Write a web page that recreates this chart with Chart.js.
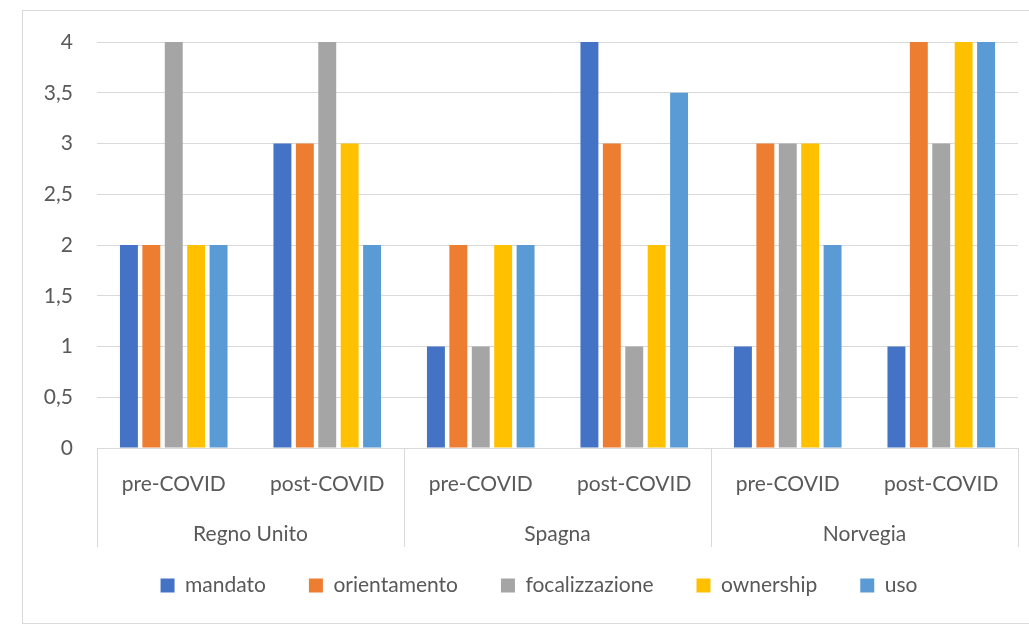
<!DOCTYPE html>
<html>
<head>
<meta charset="utf-8">
<script src="https://cdn.jsdelivr.net/npm/chart.js@4"></script>
<style>
  html, body { margin: 0; padding: 0; background: #fff; }
  #wrap { position: relative; width: 1029px; height: 627px; overflow: hidden; }
  #frame { position: absolute; left: 22px; top: 10px; width: 1020px; height: 614px; border: 1px solid #d9d9d9; box-sizing: border-box; }
  canvas { position: absolute; left: 0; top: 0; }
</style>
</head>
<body>
<div id="wrap">
  <div id="frame"></div>
  <canvas id="c" width="1029" height="627"></canvas>
</div>
<script>
// Sub-categories (period) and their country groups
const periods = ['pre-COVID', 'post-COVID', 'pre-COVID', 'post-COVID', 'pre-COVID', 'post-COVID'];
const countries = ['Regno Unito', 'Spagna', 'Norvegia'];

// Scores per dimension, one value per period/country column
const mandato        = [2, 3, 1, 4, 1, 1];
const orientamento   = [2, 3, 2, 3, 3, 4];
const focalizzazione = [4, 4, 1, 1, 3, 3];
const ownership      = [2, 3, 2, 2, 3, 4];
const uso            = [2, 2, 2, 3.5, 2, 4];

const seriesNames = ['mandato', 'orientamento', 'focalizzazione', 'ownership', 'uso'];
const seriesValues = [mandato, orientamento, focalizzazione, ownership, uso];
const seriesColors = ['#4472C4', '#ED7D31', '#A5A5A5', '#FFC000', '#5B9BD5'];

const FONT = 'Lato, "Open Sans", sans-serif';
const FONT_SIZE = 21;
const TEXT = '#595959';
const LINE = '#d9d9d9';

// Second level of the category axis: country names centred under each
// pair of periods, with vertical separators between the groups
const countryAxis = {
  id: 'countryAxis',
  afterDraw(chart) {
    const x = chart.scales.x;
    const ctx = chart.ctx;
    const step = x.getPixelForValue(1) - x.getPixelForValue(0);
    const top = chart.chartArea.bottom;
    const bottom = top + 99;
    ctx.save();
    ctx.strokeStyle = LINE;
    ctx.lineWidth = 1;
    for (let i = 0; i <= periods.length; i += 2) {
      const px = Math.round(x.getPixelForValue(i) - step / 2) + 0.5;
      ctx.beginPath();
      ctx.moveTo(px, top);
      ctx.lineTo(px, bottom);
      ctx.stroke();
    }
    ctx.fillStyle = TEXT;
    ctx.font = FONT_SIZE + 'px ' + FONT;
    ctx.textAlign = 'center';
    ctx.textBaseline = 'middle';
    countries.forEach((name, g) => {
      const cx = (x.getPixelForValue(2 * g) + x.getPixelForValue(2 * g + 1)) / 2;
      ctx.fillText(name, cx, top + 86);
    });
    ctx.restore();
  }
};

// Centre the legend row under the plot area rather than the whole canvas
const legendOffset = {
  id: 'legendOffset',
  afterLayout(chart) {
    if (chart.legend) chart.legend.left += 20;
  }
};

new Chart(document.getElementById('c'), {
  type: 'bar',
  data: {
    labels: periods,
    datasets: seriesNames.map((name, i) => ({
      label: name,
      data: seriesValues[i],
      backgroundColor: seriesColors[i],
      borderWidth: 0,
      categoryPercentage: 0.73,
      barPercentage: 0.8
    }))
  },
  options: {
    responsive: false,
    animation: false,
    devicePixelRatio: 1,
    layout: { padding: { left: 40, right: 11, top: 42, bottom: 21 } },
    scales: {
      y: {
        min: 0,
        max: 4,
        afterFit(scale) { scale.width = 57; },
        border: { display: false },
        grid: { color: LINE, drawTicks: false },
        ticks: {
          stepSize: 0.5,
          padding: 24,
          color: TEXT,
          font: { family: FONT, size: FONT_SIZE },
          callback: v => String(v).replace('.', ',')
        }
      },
      x: {
        afterFit(scale) { scale.height = 84; },
        border: { display: false },
        grid: { display: false },
        ticks: {
          padding: 16,
          color: TEXT,
          maxRotation: 0,
          autoSkip: false,
          font: { family: FONT, size: FONT_SIZE }
        }
      }
    },
    plugins: {
      tooltip: { enabled: false },
      legend: {
        position: 'bottom',
        labels: {
          boxWidth: 14,
          boxHeight: 14,
          padding: 43,
          color: TEXT,
          font: { family: FONT, size: FONT_SIZE }
        }
      }
    }
  },
  plugins: [countryAxis, legendOffset]
});
</script>
</body>
</html>
